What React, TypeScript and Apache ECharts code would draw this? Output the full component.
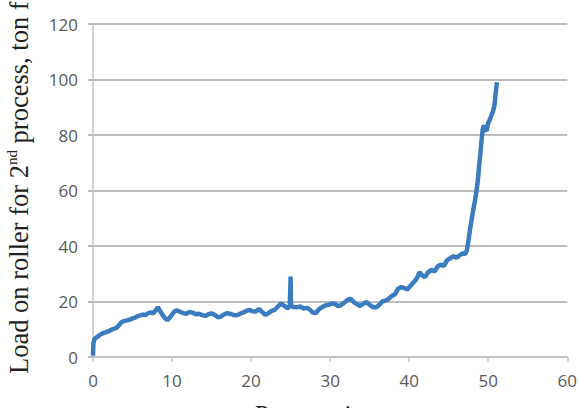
import React, { useEffect, useRef } from "react";
import * as echarts from "echarts";

const timeValues: number[] = [
  0, 0.05, 0.2, 0.5, 0.8, 1.0, 1.3, 1.6, 2.0, 2.3, 2.6, 3.0, 3.3, 3.6, 4.0, 4.3, 4.6, 5.0, 5.3, 5.6,
  6.0, 6.3, 6.6, 7.0, 7.3, 7.6, 8.0, 8.2, 8.5, 8.8, 9.1, 9.4, 9.7, 10.0, 10.3, 10.6, 11.0, 11.4, 11.8, 12.2,
  12.6, 13.0, 13.4, 13.8, 14.2, 14.6, 15.0, 15.4, 15.8, 16.2, 16.6, 17.0, 17.4, 17.8, 18.2, 18.6, 19.0, 19.4, 19.8, 20.2,
  20.6, 21.0, 21.4, 21.8, 22.2, 22.6, 23.0, 23.4, 23.8, 24.2, 24.6, 24.9, 25.0, 25.05, 25.4, 25.8, 26.2, 26.6, 27.0, 27.4,
  27.8, 28.2, 28.6, 29.0, 29.4, 29.8, 30.2, 30.6, 31.0, 31.4, 31.8, 32.2, 32.6, 33.0, 33.4, 33.8, 34.2, 34.6, 35.0, 35.4,
  35.8, 36.2, 36.6, 37.0, 37.4, 37.8, 38.2, 38.6, 39.0, 39.4, 39.8, 40.2, 40.6, 41.0, 41.3, 41.6, 42.0, 42.4, 42.8, 43.2,
  43.6, 44.0, 44.4, 44.8, 45.2, 45.6, 46.0, 46.4, 46.8, 47.1, 47.3, 47.5, 47.7, 47.9, 48.1, 48.3, 48.5, 48.7, 48.85, 49.0,
  49.15, 49.3, 49.45, 49.6, 49.8, 50.0, 50.2, 50.4, 50.6, 50.8, 50.9, 51.0, 51.1,
];

const loadValues: number[] = [
  0.5, 5, 6.5, 7.2, 7.8, 8.2, 8.6, 8.9, 9.3, 9.8, 10.1, 10.6, 11.5, 12.6, 13.0, 13.2, 13.4, 13.9, 14.2, 14.6,
  15.0, 15.3, 15.1, 15.8, 16.1, 15.7, 17.0, 18.0, 16.5, 15.2, 14.0, 13.3, 14.2, 15.3, 16.4, 16.8, 16.3, 15.8, 15.6, 16.2,
  16.0, 15.4, 15.6, 15.1, 14.8, 15.4, 15.7, 15.2, 14.3, 14.6, 15.4, 15.8, 15.5, 15.1, 15.0, 15.6, 16.0, 16.6, 17.0, 16.5,
  16.4, 17.3, 16.2, 15.2, 15.8, 16.6, 17.0, 18.2, 19.3, 18.4, 17.6, 18.3, 29.0, 18.4, 18.0, 17.9, 18.2, 17.5, 17.7, 17.2,
  16.0, 15.8, 17.3, 18.0, 18.6, 18.8, 19.3, 19.2, 18.3, 18.7, 19.6, 20.6, 21.0, 19.8, 19.0, 18.4, 19.2, 19.8, 18.8, 18.0,
  17.8, 18.7, 20.0, 20.3, 21.0, 22.0, 22.6, 24.6, 25.2, 24.8, 24.4, 25.8, 27.0, 28.5, 30.6, 29.5, 28.8, 30.5, 31.4, 30.8,
  32.6, 33.3, 32.8, 34.9, 35.6, 36.3, 35.8, 36.7, 37.4, 37.0, 38.5, 42, 46, 49.5, 53, 56, 59.5, 64, 69, 73,
  78, 82, 83.5, 82, 81.5, 84.5, 85.5, 87, 88.5, 91, 94, 96.5, 99,
];

const xTicks: number[] = [0, 10, 20, 30, 40, 50, 60];
const yTicks: number[] = [0, 20, 40, 60, 80, 100, 120];

const yAxisTitle = "{a|Load on roller for 2}{sup|nd}{a| process, ton f}";
const xAxisTitle = "Process time, s";

export default function App() {
  const ref = useRef<HTMLDivElement>(null);

  useEffect(() => {
    document.body.style.margin = "0";
    if (!ref.current) return;
    const chart = echarts.init(ref.current, undefined, { renderer: "svg" });
    const data = timeValues.map((t, i) => [t, loadValues[i]]);
    const labelStyle = {
      color: "#595959",
      fontSize: 17,
      fontFamily: "'Open Sans', 'Noto Sans', sans-serif",
    };
    chart.setOption({
      animation: false,
      backgroundColor: "#ffffff",
      grid: { left: 93, right: 7, top: 24, bottom: 51, containLabel: false },
      xAxis: {
        type: "value",
        min: xTicks[0],
        max: xTicks[xTicks.length - 1],
        interval: 10,
        axisLine: { show: true, lineStyle: { color: "#c4c4c4", width: 1.5 } },
        axisTick: { show: true, length: 5, lineStyle: { color: "#c4c4c4", width: 1.5 } },
        axisLabel: { ...labelStyle, margin: 15 },
        splitLine: { show: false },
      },
      yAxis: {
        type: "value",
        min: yTicks[0],
        max: yTicks[yTicks.length - 1],
        interval: 20,
        axisLine: { show: true, lineStyle: { color: "#c4c4c4", width: 1.5 } },
        axisTick: { show: true, length: 5, lineStyle: { color: "#a6a6a6", width: 1.5 } },
        axisLabel: { ...labelStyle, margin: 15 },
        splitLine: { show: true, lineStyle: { color: "#a6a6a6", width: 1.5 } },
      },
      series: [
        {
          type: "line",
          data,
          showSymbol: false,
          symbol: "none",
          lineStyle: { color: "#3a7cbf", width: 4.5 },
          itemStyle: { color: "#3a7cbf" },
          z: 3,
        },
      ],
      graphic: [
        {
          type: "text",
          x: 19,
          y: 374,
          rotation: Math.PI / 2,
          style: {
            text: yAxisTitle,
            textAlign: "left",
            textVerticalAlign: "middle",
            fill: "#222",
            rich: {
              a: {
                fontFamily: "'Liberation Serif', 'DejaVu Serif', serif",
                fontSize: 26.5,
                lineHeight: 30,
                color: "#222",
              },
              sup: {
                fontFamily: "'Liberation Serif', 'DejaVu Serif', serif",
                fontSize: 15,
                lineHeight: 30,
                verticalAlign: "top",
                color: "#222",
              },
            },
          },
        },
        {
          type: "text",
          x: 255,
          y: 402,
          style: {
            text: xAxisTitle,
            textAlign: "left",
            textVerticalAlign: "top",
            fill: "#222",
            font: "25px 'Liberation Serif', 'DejaVu Serif', serif",
          },
        },
      ],
    });
    return () => chart.dispose();
  }, []);

  return <div ref={ref} style={{ width: 580, height: 408 }} />;
}
